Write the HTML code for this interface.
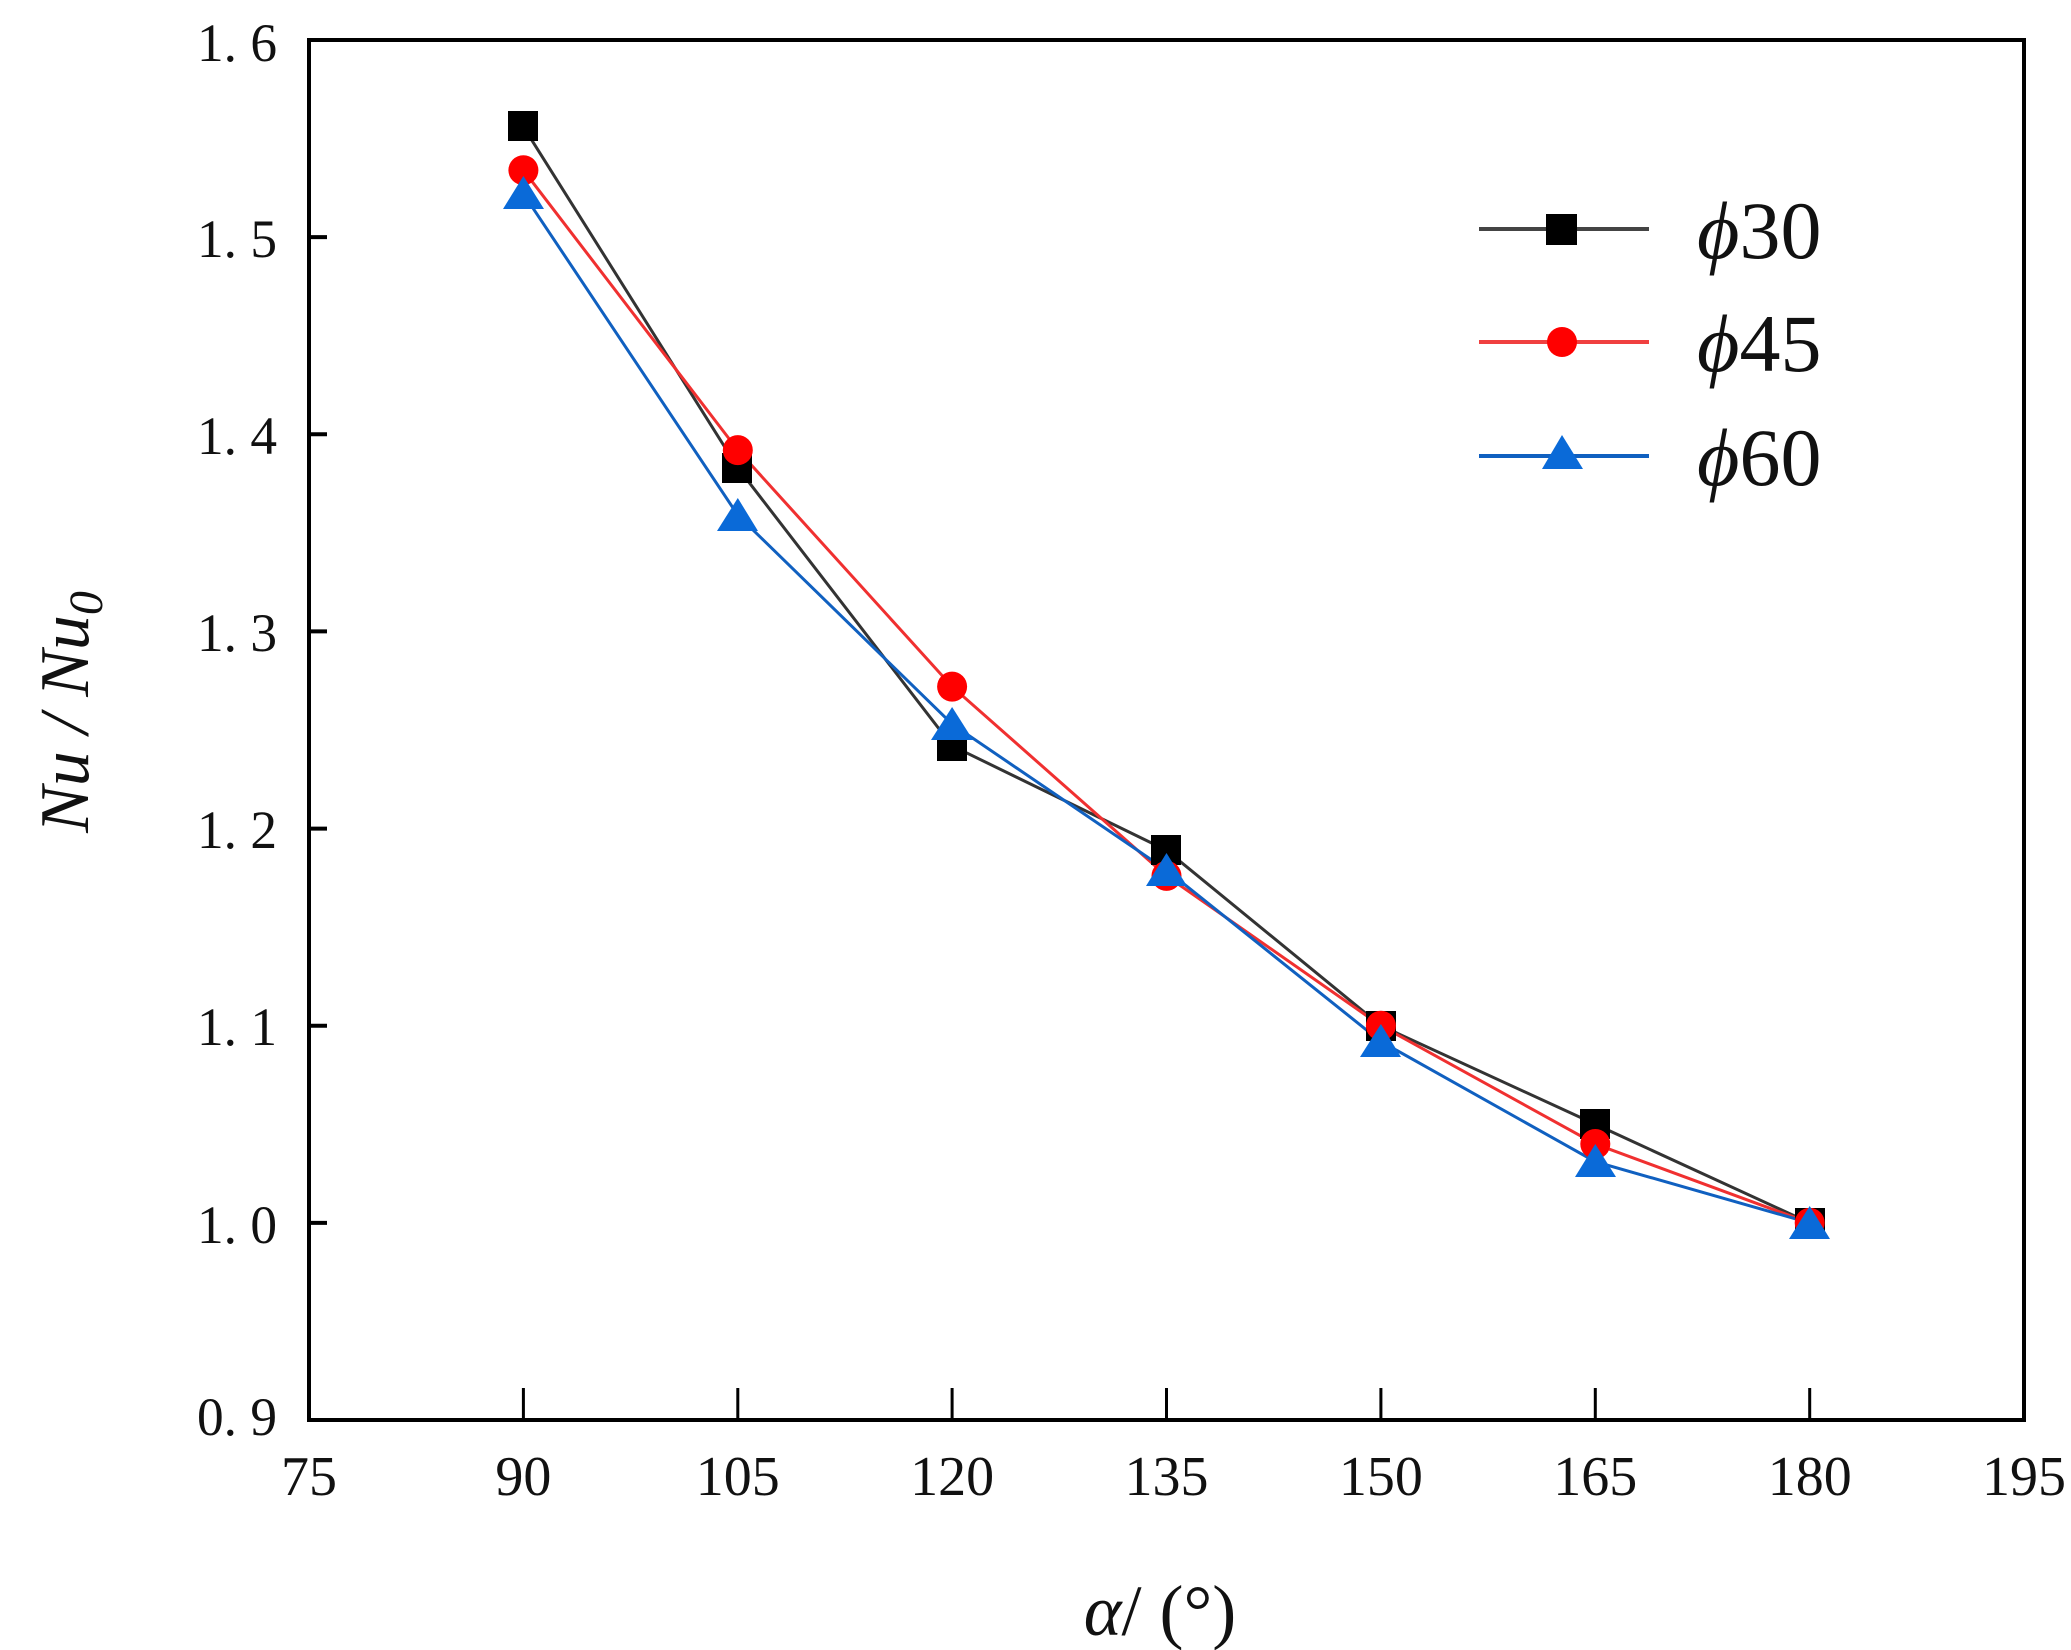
<!DOCTYPE html>
<html><head><meta charset="utf-8"><style>
html,body{margin:0;padding:0;background:#fff;}
svg{display:block;}
text{font-family:"Liberation Serif",serif;fill:#111;}
</style></head><body>
<svg width="2071" height="1650" viewBox="0 0 2071 1650" xmlns="http://www.w3.org/2000/svg">
<rect width="2071" height="1650" fill="#fff"/>
<!-- axes box -->
<rect x="309" y="40" width="1715" height="1380" fill="none" stroke="#000" stroke-width="4"/>
<!-- y ticks -->
<g stroke="#000" stroke-width="4">
<line x1="309" y1="237.1" x2="327" y2="237.1"/>
<line x1="309" y1="434.3" x2="327" y2="434.3"/>
<line x1="309" y1="631.4" x2="327" y2="631.4"/>
<line x1="309" y1="828.6" x2="327" y2="828.6"/>
<line x1="309" y1="1025.7" x2="327" y2="1025.7"/>
<line x1="309" y1="1222.9" x2="327" y2="1222.9"/>
</g>
<g stroke="#000" stroke-width="3">
<line x1="523.4" y1="1420" x2="523.4" y2="1388"/>
<line x1="737.8" y1="1420" x2="737.8" y2="1388"/>
<line x1="952.1" y1="1420" x2="952.1" y2="1388"/>
<line x1="1166.5" y1="1420" x2="1166.5" y2="1388"/>
<line x1="1380.9" y1="1420" x2="1380.9" y2="1388"/>
<line x1="1595.3" y1="1420" x2="1595.3" y2="1388"/>
<line x1="1809.7" y1="1420" x2="1809.7" y2="1388"/>
</g>
<!-- y labels -->
<g font-size="54" text-anchor="end">
<text x="277" y="61" textLength="80" lengthAdjust="spacingAndGlyphs">1. 6</text>
<text x="277" y="257" textLength="80" lengthAdjust="spacingAndGlyphs">1. 5</text>
<text x="277" y="454" textLength="80" lengthAdjust="spacingAndGlyphs">1. 4</text>
<text x="277" y="651" textLength="80" lengthAdjust="spacingAndGlyphs">1. 3</text>
<text x="277" y="848" textLength="80" lengthAdjust="spacingAndGlyphs">1. 2</text>
<text x="277" y="1045" textLength="80" lengthAdjust="spacingAndGlyphs">1. 1</text>
<text x="277" y="1243" textLength="80" lengthAdjust="spacingAndGlyphs">1. 0</text>
<text x="277" y="1435" textLength="80" lengthAdjust="spacingAndGlyphs">0. 9</text>
</g>
<!-- x labels -->
<g font-size="56" text-anchor="middle">
<text x="309" y="1495">75</text>
<text x="523.4" y="1495">90</text>
<text x="737.8" y="1495">105</text>
<text x="952.1" y="1495">120</text>
<text x="1166.5" y="1495">135</text>
<text x="1380.9" y="1495">150</text>
<text x="1595.3" y="1495">165</text>
<text x="1809.7" y="1495">180</text>
<text x="2024" y="1495">195</text>
</g>
<!-- axis titles -->
<text x="1160" y="1635" font-size="72" text-anchor="middle"><tspan font-style="italic">α</tspan>/ (°)</text>
<text transform="translate(88,712) rotate(-90)" font-size="70" text-anchor="middle" font-style="italic">Nu / Nu<tspan font-size="48" dy="14">0</tspan></text>
<!-- series -->
<polyline fill="none" stroke="#333" stroke-width="3" points="523.4,126.8 737.8,467.8 952.1,745.8 1166.5,850.3 1380.9,1025.7 1595.3,1124.3 1809.7,1222.9"/>
<polyline fill="none" stroke="#f03030" stroke-width="3" points="523.4,170.2 737.8,450.1 952.1,686.6 1166.5,875.9 1380.9,1025.7 1595.3,1144 1809.7,1222.9"/>
<polyline fill="none" stroke="#1060c0" stroke-width="3" points="523.4,193.8 737.8,515.1 952.1,724.1 1166.5,870 1380.9,1041.5 1595.3,1161.7 1809.7,1222.9"/>
<g fill="#000">
<rect x="508" y="111" width="30" height="30"/>
<rect x="722" y="453" width="30" height="30"/>
<rect x="937" y="731" width="30" height="30"/>
<rect x="1151" y="835" width="30" height="30"/>
<rect x="1366" y="1011" width="30" height="30"/>
<rect x="1580" y="1109" width="30" height="30"/>
<rect x="1795" y="1208" width="30" height="30"/>
</g>
<g fill="#ff0000">
<circle cx="523.4" cy="170.2" r="15"/>
<circle cx="737.8" cy="450.1" r="15"/>
<circle cx="952.1" cy="686.6" r="15"/>
<circle cx="1166.5" cy="875.9" r="15"/>
<circle cx="1380.9" cy="1025.7" r="15"/>
<circle cx="1595.3" cy="1144" r="15"/>
<circle cx="1809.7" cy="1222.9" r="15"/>
</g>
<g fill="#0a6ad8">
<polygon points="523.4,176 503,209 544,209"/>
<polygon points="737.8,498 717,531 758,531"/>
<polygon points="952.1,707 931,740 973,740"/>
<polygon points="1166.5,853 1146,886 1187,886"/>
<polygon points="1380.9,1024 1360,1057 1401,1057"/>
<polygon points="1595.3,1144 1575,1177 1616,1177"/>
<polygon points="1809.7,1206 1789,1239 1830,1239"/>
</g>
<!-- legend -->
<line x1="1479" y1="229" x2="1649" y2="229" stroke="#444" stroke-width="4"/>
<rect x="1546" y="214" width="31" height="31" fill="#000"/>
<line x1="1479" y1="342" x2="1649" y2="342" stroke="#f04040" stroke-width="4"/>
<circle cx="1562" cy="342" r="15" fill="#ff0000"/>
<line x1="1479" y1="456" x2="1649" y2="456" stroke="#1060c0" stroke-width="4"/>
<polygon points="1562,435 1542,469 1583,469" fill="#0a6ad8"/>
<g font-size="82">
<text x="1697" y="258"><tspan font-style="italic">ϕ</tspan>30</text>
<text x="1697" y="371"><tspan font-style="italic">ϕ</tspan>45</text>
<text x="1697" y="485"><tspan font-style="italic">ϕ</tspan>60</text>
</g>
</svg>
</body></html>
